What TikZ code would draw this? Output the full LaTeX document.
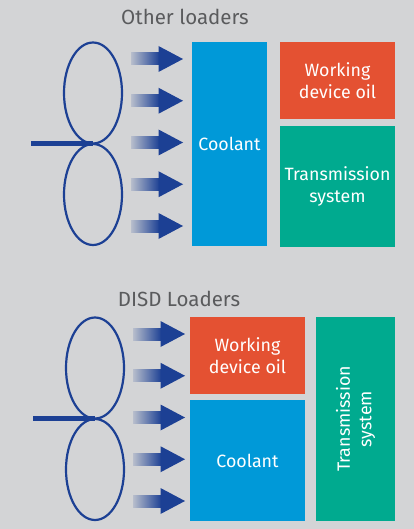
\documentclass[tikz,border=0pt]{standalone}
\usepackage{fontspec}
\setmainfont{Fira Sans}
\usepackage{xcolor}
\usepackage{tikz}
\definecolor{bggray}{RGB}{211,212,214}
\definecolor{coolblue}{RGB}{0,153,216}
\definecolor{oilred}{RGB}{228,81,50}
\definecolor{transgreen}{RGB}{0,170,143}
\definecolor{fanblue}{RGB}{28,64,148}
\definecolor{titlegray}{RGB}{90,91,93}

\begin{document}
\begin{tikzpicture}[x=1pt,y=1pt,yscale=-1,
  box/.style={inner sep=0pt, text=white, align=center, font=\fontsize{17.8}{21.5}\selectfont},
  title/.style={anchor=base, text=titlegray, font=\fontsize{20.5}{24}\selectfont},
  fan/.style={draw=fanblue, line width=2.2pt},
  shaft/.style={draw=fanblue, line width=5.5pt}]
%Background
\fill[bggray] (0,0) rectangle (414,529);
\useasboundingbox (0,0) rectangle (414,529);

% Text Node
\node[title] (titleA) at (185,25) {Other loaders};
% Text Node
\node[title] (titleB) at (179,306) {DISD Loaders};

%Shape: fans and air flow, one per panel
\foreach \dx/\dy in {0/0, 2/275} {
  \begin{scope}[shift={(\dx,\dy)}]
    \draw[fan] (93,93) ellipse (29 and 50.5);
    \draw[fan] (93,194.5) ellipse (29 and 50.5);
    \coordinate (hub) at (93,143.5);
    \coordinate (shaftend) at (31,143.5);
    \draw[shaft] (shaftend) -- (hub);
    \foreach \i in {0,...,4} {
      \pgfmathsetmacro{\ya}{59+41.75*\i}
      \shade[left color=fanblue!15!bggray, right color=fanblue] (131,\ya-6) rectangle (159.5,\ya+6);
      \fill[fanblue] (158.5,\ya-13) -- (183,\ya) -- (158.5,\ya+13) -- cycle;
    }
  \end{scope}
}

%Shape: Rectangle, upper panel
\node[box, fill=coolblue, minimum width=75, minimum height=204] (coolA) at (229.5,144) {Coolant};
\node[box, fill=oilred, minimum width=115, minimum height=77] (oilA) at (337.5,80.5) {Working\\device oil};
\node[box, fill=transgreen, minimum width=115, minimum height=121] (transA) at (337.5,186.5) {Transmission\\system};

%Shape: Rectangle, lower panel
\node[box, fill=oilred, minimum width=115, minimum height=77] (oilB) at (247.5,355.5) {Working\\device oil};
\node[box, fill=coolblue, minimum width=115, minimum height=121] (coolB) at (247.5,460.5) {Coolant};
\node[box, fill=transgreen, minimum width=79, minimum height=204] (transB) at (355.5,419) {};
% Text Node
\node[box, rotate=90] (transBtext) at (transB.center) {Transmission\\system};
\end{tikzpicture}
\end{document}
